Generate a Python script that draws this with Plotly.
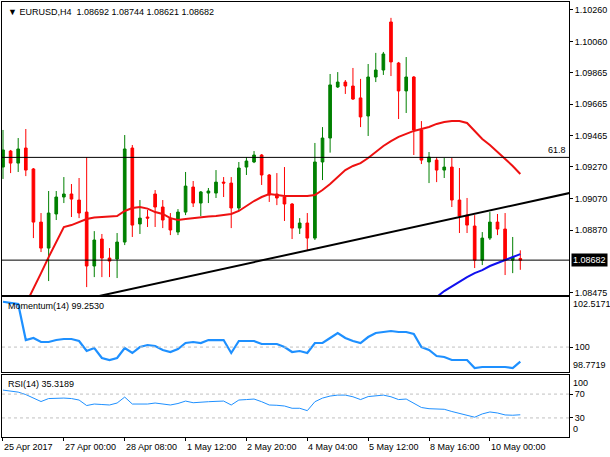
import plotly.graph_objects as go
from plotly.subplots import make_subplots

# ===== DATA =====
bars = list(range(69))

opens = [1.09269, 1.09370, 1.09294, 1.09389, 1.09257, 1.08922, 1.08758, 1.08973, 1.09080, 1.09099,
         1.09061, 1.08985, 1.08645, 1.08815, 1.08695, 1.08689, 1.08796, 1.09389, 1.08910, 1.08954,
         1.09099, 1.09017, 1.08947, 1.08859, 1.08985, 1.09143, 1.09042, 1.09105, 1.09105, 1.09174,
         1.09168, 1.09011, 1.09269, 1.09301, 1.09345, 1.09219, 1.09099, 1.09080, 1.09036, 1.08884,
         1.08916, 1.08821, 1.09301, 1.09452, 1.09774, 1.09805, 1.09780, 1.09705, 1.09591, 1.09837,
         1.09881, 1.10184, 1.09925, 1.09749, 1.09837, 1.09503, 1.09301, 1.09313, 1.09250, 1.09269,
         1.09061, 1.08966, 1.08897, 1.08682, 1.08821, 1.08922, 1.08878, 1.08682, 1.08692]
highs = [1.09503, 1.09377, 1.09452, 1.09509, 1.09263, 1.08979, 1.09118, 1.09118, 1.09206, 1.09162,
         1.09200, 1.09332, 1.08865, 1.08847, 1.08758, 1.08853, 1.09471, 1.09408, 1.09061, 1.08998,
         1.09124, 1.09061, 1.08979, 1.09004, 1.09238, 1.09181, 1.09118, 1.09137, 1.09250, 1.09206,
         1.09206, 1.09301, 1.09332, 1.09370, 1.09351, 1.09225, 1.09231, 1.09269, 1.09042, 1.08947,
         1.08979, 1.09421, 1.09521, 1.09856, 1.09868, 1.09818, 1.09894, 1.09825, 1.09919, 1.09989,
         1.09995, 1.10210, 1.09932, 1.09963, 1.09843, 1.09559, 1.09364, 1.09332, 1.09326, 1.09326,
         1.09263, 1.09074, 1.08966, 1.08859, 1.08985, 1.08973, 1.08979, 1.08828, 1.08744]
lows = [1.09194, 1.09231, 1.09238, 1.09212, 1.08821, 1.08733, 1.08550, 1.08935, 1.09042, 1.08954,
        1.08947, 1.08512, 1.08575, 1.08575, 1.08575, 1.08569, 1.08777, 1.08828, 1.08847, 1.08891,
        1.08891, 1.08884, 1.08840, 1.08840, 1.08966, 1.09017, 1.08960, 1.09042, 1.09074, 1.09080,
        1.08884, 1.08998, 1.09219, 1.09294, 1.09156, 1.09049, 1.09029, 1.08929, 1.08815, 1.08847,
        1.08746, 1.08809, 1.09187, 1.09360, 1.09768, 1.09730, 1.09692, 1.09521, 1.09465, 1.09805,
        1.09850, 1.09843, 1.09572, 1.09610, 1.09345, 1.09288, 1.09168, 1.09174, 1.09200, 1.09017,
        1.08853, 1.08853, 1.08632, 1.08651, 1.08809, 1.08840, 1.08588, 1.08600, 1.08621]
closes = [1.09377, 1.09294, 1.09383, 1.09250, 1.08922, 1.08758, 1.08979, 1.09080, 1.09099, 1.09067,
          1.08979, 1.08645, 1.08809, 1.08695, 1.08676, 1.08796, 1.09383, 1.08903, 1.08947, 1.08947,
          1.09017, 1.08935, 1.08872, 1.08985, 1.09149, 1.09042, 1.09112, 1.09118, 1.09174, 1.09168,
          1.09011, 1.09263, 1.09307, 1.09345, 1.09219, 1.09093, 1.09074, 1.09036, 1.08884, 1.08916,
          1.08821, 1.09301, 1.09452, 1.09787, 1.09805, 1.09780, 1.09698, 1.09585, 1.09837, 1.09881,
          1.09982, 1.09932, 1.09749, 1.09837, 1.09503, 1.09313, 1.09332, 1.09250, 1.09269, 1.09061,
          1.08960, 1.08903, 1.08682, 1.08821, 1.08922, 1.08878, 1.08682, 1.08701, 1.08682]

# red moving average, visible from bar 3 on
ma_red_bars = list(range(3, 69))
ma_red = [1.08405, 1.08499, 1.08600, 1.08701, 1.08796, 1.08891, 1.08903, 1.08922, 1.08941, 1.08951,
          1.08954, 1.08957, 1.08960, 1.08992, 1.09011, 1.09017, 1.09007, 1.08985, 1.08973, 1.08947,
          1.08935, 1.08941, 1.08947, 1.08954, 1.08957, 1.08960, 1.08966, 1.08973, 1.08992, 1.09023,
          1.09055, 1.09080, 1.09099, 1.09093, 1.09087, 1.09087, 1.09087, 1.09087, 1.09093, 1.09124,
          1.09162, 1.09206, 1.09250, 1.09276, 1.09294, 1.09326, 1.09364, 1.09402, 1.09433, 1.09459,
          1.09478, 1.09497, 1.09509, 1.09522, 1.09541, 1.09553, 1.09560, 1.09560, 1.09547, 1.09497,
          1.09446, 1.09408, 1.09364, 1.09320, 1.09276, 1.09225]

# blue moving average, only the last bars
ma_blue_bars = list(range(56, 69))
ma_blue = [1.08417, 1.08449, 1.08487, 1.08518, 1.08544, 1.08575, 1.08600, 1.08619, 1.08645, 1.08663,
           1.08682, 1.08701, 1.08720]

# trendline anchors and horizontal levels
trend_bars = [0, 75]
trend_prices = [1.08323, 1.09111]
fib_level = 1.09330
last_price = 1.08682

momentum = [102.327, 102.261, 102.209, 100.362, 100.465, 100.260, 100.260, 100.362, 100.414, 100.414,
            100.311, 99.798, 99.952, 99.439, 99.336, 99.439, 99.952, 99.696, 100.003, 100.106,
            100.055, 99.850, 99.747, 99.901, 100.209, 100.260, 100.209, 100.362, 100.362, 100.362,
            99.696, 100.311, 100.311, 100.311, 100.157, 100.157, 100.157, 100.003, 99.747, 99.798,
            99.696, 100.209, 100.209, 100.465, 100.722, 100.465, 100.311, 100.209, 100.516, 100.722,
            100.773, 100.824, 100.773, 100.773, 100.670, 100.003, 99.850, 99.542, 99.490, 99.336,
            99.336, 99.336, 98.926, 98.977, 98.977, 98.977, 98.977, 98.926, 99.253]

rsi = [76.7, 75.0, 73.3, 69.2, 63.3, 57.5, 62.5, 63.3, 63.3, 62.5,
       60.0, 50.8, 53.3, 52.5, 51.7, 55.0, 65.0, 53.3, 53.3, 53.3,
       55.0, 53.3, 51.7, 54.2, 58.3, 55.5, 56.7, 57.2, 57.8, 58.3,
       51.7, 60.0, 60.8, 61.7, 57.2, 51.7, 51.2, 50.0, 46.2, 46.2,
       42.2, 57.2, 63.3, 66.7, 68.3, 68.3, 65.5, 60.8, 65.8, 67.5,
       68.3, 65.5, 60.8, 61.7, 55.0, 47.5, 45.5, 45.0, 44.5, 40.8,
       37.8, 35.3, 31.2, 36.7, 40.0, 38.3, 35.0, 34.5, 35.3]

tick_bars = [0, 8, 16, 24, 32, 40, 48, 56, 64]
tick_labels = ["25 Apr 2017", "27 Apr 00:00", "28 Apr 08:00", "1 May 12:00", "2 May 20:00",
               "4 May 04:00", "5 May 12:00", "8 May 16:00", "10 May 00:00"]
price_ticks = [1.10260, 1.10060, 1.09865, 1.09665, 1.09465, 1.09270, 1.09070, 1.08870, 1.08475]
mom_max, mom_min = 102.5171, 98.7719

FONT = "Liberation Sans, Arial, sans-serif"
GREEN = "#008000"
RED = "#ff0000"
LEVEL_GREY = "#c0c0c0"

# ===== FIGURE =====
fig = make_subplots(rows=3, cols=1, shared_xaxes=True)

fig.add_trace(go.Candlestick(
    x=bars, open=opens, high=highs, low=lows, close=closes,
    increasing=dict(line=dict(color=GREEN, width=1), fillcolor=GREEN),
    decreasing=dict(line=dict(color=RED, width=1), fillcolor=RED),
    whiskerwidth=0, hoverinfo="skip", showlegend=False,
), row=1, col=1)

fig.add_trace(go.Scatter(x=ma_red_bars, y=ma_red, mode="lines",
                         line=dict(color="#ee1111", width=2), showlegend=False), row=1, col=1)
fig.add_trace(go.Scatter(x=ma_blue_bars, y=ma_blue, mode="lines",
                         line=dict(color="#1010ee", width=2), showlegend=False), row=1, col=1)
fig.add_trace(go.Scatter(x=trend_bars, y=trend_prices, mode="lines",
                         line=dict(color="black", width=2), showlegend=False), row=1, col=1)

fig.add_trace(go.Scatter(x=bars, y=momentum, mode="lines",
                         line=dict(color="#1e90ff", width=2.2), showlegend=False), row=2, col=1)
fig.add_trace(go.Scatter(x=bars, y=rsi, mode="lines",
                         line=dict(color="#1e90ff", width=1), showlegend=False), row=3, col=1)

fig.add_hline(y=fib_level, row=1, col=1, line=dict(color="black", width=1))
fig.add_hline(y=last_price, row=1, col=1, line=dict(color="black", width=1))
fig.add_hline(y=100, row=2, col=1, line=dict(color=LEVEL_GREY, width=1, dash="3px,3px"))
for lvl in [70, 30]:
    fig.add_hline(y=lvl, row=3, col=1, line=dict(color=LEVEL_GREY, width=1, dash="3px,3px"))

axis_common = dict(showgrid=False, zeroline=False, showline=True, mirror=True,
                   linecolor="black", linewidth=1)
x_range = [-0.13, 74.4]

fig.update_layout(
    width=610, height=457,
    margin=dict(l=2, r=41, t=2, b=20),
    paper_bgcolor="white", plot_bgcolor="white",
    font=dict(family=FONT, size=9, color="black"),
    showlegend=False, boxgap=0.5,
    xaxis=dict(range=x_range, rangeslider=dict(visible=False), showticklabels=False, **axis_common),
    xaxis2=dict(range=x_range, showticklabels=False, **axis_common),
    xaxis3=dict(range=x_range, tickvals=tick_bars, ticks="outside", ticklen=3,
                tickcolor="black", showticklabels=False, **axis_common),
    yaxis=dict(domain=[0.3264, 1.0], range=[1.08462, 1.10310], side="right",
               tickvals=price_ticks, ticktext=["%.5f" % p for p in price_ticks],
               ticks="outside", ticklen=3, tickcolor="black", **axis_common),
    yaxis2=dict(domain=[0.1494, 0.3218], range=[98.72, 102.57], side="right",
                tickvals=[100], ticktext=["100"], ticks="outside", ticklen=3,
                tickcolor="black", **axis_common),
    yaxis3=dict(domain=[0.0, 0.1425], range=[-2, 102], side="right",
                tickvals=[70, 30], ticktext=["70", "30"], ticks="outside", ticklen=3,
                tickcolor="black", **axis_common),
)

# ===== TEXT =====
notes = []
notes.append(dict(text="\u25bc EURUSD,H4\u00a0\u00a01.08692 1.08744 1.08621 1.08682",
                  xref="paper", yref="paper", x=0, y=1, xanchor="left", yanchor="top",
                  xshift=4, yshift=-3, showarrow=False, font=dict(size=9)))
notes.append(dict(text="61.8", xref="paper", yref="y", x=1, y=fib_level, xanchor="right",
                  yanchor="bottom", xshift=-1, showarrow=False, font=dict(size=9)))
notes.append(dict(text="%.5f" % last_price, xref="paper", yref="y", x=1, y=last_price,
                  xanchor="left", yanchor="middle", xshift=2, showarrow=False,
                  bgcolor="black", borderpad=1, font=dict(size=9, color="white")))
notes.append(dict(text="Momentum(14) 99.2530", xref="paper", yref="y2 domain", x=0, y=1,
                  xanchor="left", yanchor="top", xshift=4, yshift=-2, showarrow=False))
notes.append(dict(text="%.4f" % mom_max, xref="paper", yref="y2 domain", x=1, y=1,
                  xanchor="left", yanchor="top", xshift=2, showarrow=False))
notes.append(dict(text="%.4f" % mom_min, xref="paper", yref="y2 domain", x=1, y=0,
                  xanchor="left", yanchor="bottom", xshift=2, showarrow=False))
notes.append(dict(text="RSI(14) 35.3189", xref="paper", yref="y3 domain", x=0, y=1,
                  xanchor="left", yanchor="top", xshift=4, yshift=-2, showarrow=False))
notes.append(dict(text="100", xref="paper", yref="y3", x=1, y=100,
                  xanchor="left", yanchor="top", xshift=2, showarrow=False))
notes.append(dict(text="0", xref="paper", yref="y3", x=1, y=0,
                  xanchor="left", yanchor="bottom", xshift=2, showarrow=False))
for b, lab in zip(tick_bars, tick_labels):
    notes.append(dict(text=lab, xref="x3", yref="paper", x=b, y=0, xanchor="left",
                      yanchor="top", xshift=-1, yshift=-3, showarrow=False))
fig.update_layout(annotations=notes)

# page has a default body margin which pushes the chart off the window edge
fig.write_html("out.html", config={"displayModeBar": False},
               post_script="document.body.style.margin='0px';")
